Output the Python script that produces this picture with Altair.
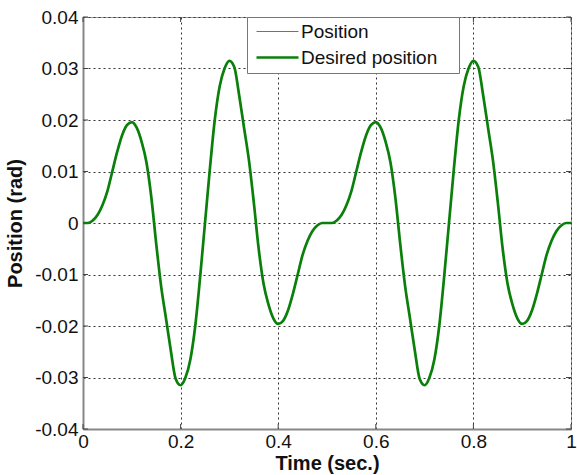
import altair as alt
import pandas as pd

time = [0.00, 0.01, 0.02, 0.03, 0.04, 0.05, 0.06, 0.07, 0.08, 0.09,
        0.10, 0.11, 0.12, 0.13, 0.14, 0.15, 0.16, 0.17, 0.18, 0.19,
        0.20, 0.21, 0.22, 0.23, 0.24, 0.25, 0.26, 0.27, 0.28, 0.29,
        0.30, 0.31, 0.32, 0.33, 0.34, 0.35, 0.36, 0.37, 0.38, 0.39,
        0.40, 0.41, 0.42, 0.43, 0.44, 0.45, 0.46, 0.47, 0.48, 0.49,
        0.50, 0.51, 0.52, 0.53, 0.54, 0.55, 0.56, 0.57, 0.58, 0.59,
        0.60, 0.61, 0.62, 0.63, 0.64, 0.65, 0.66, 0.67, 0.68, 0.69,
        0.70, 0.71, 0.72, 0.73, 0.74, 0.75, 0.76, 0.77, 0.78, 0.79,
        0.80, 0.81, 0.82, 0.83, 0.84, 0.85, 0.86, 0.87, 0.88, 0.89,
        0.90, 0.91, 0.92, 0.93, 0.94, 0.95, 0.96, 0.97, 0.98, 0.99,
        1.00]

desired = [0.0000, 0.0000, 0.0005, 0.0016, 0.0035, 0.0062, 0.0100, 0.0138, 0.0170, 0.0190,
           0.0196, 0.0185, 0.0158, 0.0118, 0.0050, -0.0040, -0.0122, -0.0185, -0.0248, -0.0303,
           -0.0315, -0.0300, -0.0265, -0.0200, -0.0105, 0.0000, 0.0105, 0.0200, 0.0265, 0.0300,
           0.0315, 0.0303, 0.0248, 0.0185, 0.0122, 0.0040, -0.0050, -0.0118, -0.0158, -0.0185,
           -0.0196, -0.0190, -0.0170, -0.0138, -0.0100, -0.0062, -0.0035, -0.0016, -0.0005, 0.0000,
           0.0000, 0.0000, 0.0005, 0.0016, 0.0035, 0.0062, 0.0100, 0.0138, 0.0170, 0.0190,
           0.0196, 0.0185, 0.0158, 0.0118, 0.0050, -0.0040, -0.0122, -0.0185, -0.0248, -0.0303,
           -0.0315, -0.0300, -0.0265, -0.0200, -0.0105, 0.0000, 0.0105, 0.0200, 0.0265, 0.0300,
           0.0315, 0.0303, 0.0248, 0.0185, 0.0122, 0.0040, -0.0050, -0.0118, -0.0158, -0.0185,
           -0.0196, -0.0190, -0.0170, -0.0138, -0.0100, -0.0062, -0.0035, -0.0016, -0.0005, 0.0000,
           0.0000]

# measured position tracks the desired trajectory (no visible difference)
position = [0.0000, 0.0000, 0.0005, 0.0016, 0.0035, 0.0062, 0.0100, 0.0138, 0.0170, 0.0190,
            0.0196, 0.0185, 0.0158, 0.0118, 0.0050, -0.0040, -0.0122, -0.0185, -0.0248, -0.0303,
            -0.0315, -0.0300, -0.0265, -0.0200, -0.0105, 0.0000, 0.0105, 0.0200, 0.0265, 0.0300,
            0.0315, 0.0303, 0.0248, 0.0185, 0.0122, 0.0040, -0.0050, -0.0118, -0.0158, -0.0185,
            -0.0196, -0.0190, -0.0170, -0.0138, -0.0100, -0.0062, -0.0035, -0.0016, -0.0005, 0.0000,
            0.0000, 0.0000, 0.0005, 0.0016, 0.0035, 0.0062, 0.0100, 0.0138, 0.0170, 0.0190,
            0.0196, 0.0185, 0.0158, 0.0118, 0.0050, -0.0040, -0.0122, -0.0185, -0.0248, -0.0303,
            -0.0315, -0.0300, -0.0265, -0.0200, -0.0105, 0.0000, 0.0105, 0.0200, 0.0265, 0.0300,
            0.0315, 0.0303, 0.0248, 0.0185, 0.0122, 0.0040, -0.0050, -0.0118, -0.0158, -0.0185,
            -0.0196, -0.0190, -0.0170, -0.0138, -0.0100, -0.0062, -0.0035, -0.0016, -0.0005, 0.0000,
            0.0000]

series_names = ["Position", "Desired position"]
series_colors = ["#6060ff", "#0a800a"]
series_widths = [1.2, 2.7]

x_ticks = [0, 0.2, 0.4, 0.6, 0.8, 1.0]
y_ticks = [-0.04, -0.03, -0.02, -0.01, 0, 0.01, 0.02, 0.03, 0.04]

df = pd.concat([
    pd.DataFrame({"series": series_names[0], "time": time, "value": position}),
    pd.DataFrame({"series": series_names[1], "time": time, "value": desired}),
], ignore_index=True)

W, H = 488, 412
FONT = "Liberation Sans"

x_enc = alt.X("time:Q",
              scale=alt.Scale(domain=[0, 1], nice=False, zero=False),
              axis=alt.Axis(values=x_ticks, format="~g", title="Time (sec.)", labelFlush=False,
                            grid=True, ticks=False, labelPadding=3, titlePadding=2))
y_enc = alt.Y("value:Q",
              scale=alt.Scale(domain=[-0.04, 0.04], nice=False, zero=False),
              axis=alt.Axis(values=y_ticks, title="Position (rad)", labelFlush=False,
                            labelExpr="datum.value == 0 ? '0' : (datum.value < 0 ? '-' : '') + format(abs(datum.value), '.2f')",
                            grid=True, ticks=False, labelPadding=5, titlePadding=9))

# short horizontal stroke symbol: path in unit space, scaled by sqrt(size)/2 = 7 -> 42 px long.
# An invisible title on the right only widens the box to the reference's size.
leg = alt.Legend(title="MM", titleOrient="right", titleOpacity=0, titleFontSize=10, titlePadding=0,
                 orient="none", legendX=164, legendY=0, direction="vertical",
                 fillColor="white", strokeColor="#777", padding=5,
                 symbolType="M-3,0H3", symbolSize=196, symbolOffset=16,
                 labelFont=FONT, labelFontSize=19, labelColor="#111", labelLimit=400,
                 rowPadding=6, labelOffset=14)

color_enc = alt.Color("series:N", scale=alt.Scale(domain=series_names, range=series_colors), legend=leg)
width_enc = alt.StrokeWidth("series:N", scale=alt.Scale(domain=series_names, range=series_widths), legend=leg)

base = alt.Chart(df)
pos_line = base.transform_filter(alt.datum.series == series_names[0]).mark_line(
    interpolate="monotone", clip=True).encode(x=x_enc, y=y_enc, color=color_enc, strokeWidth=width_enc)
des_line = base.transform_filter(alt.datum.series == series_names[1]).mark_line(
    interpolate="monotone", clip=True).encode(x=x_enc, y=y_enc, color=color_enc, strokeWidth=width_enc)

xt = alt.Chart(pd.DataFrame({"time": x_ticks}))
yt = alt.Chart(pd.DataFrame({"value": y_ticks}))
tick_col = "#444"
xb = xt.mark_rule(color=tick_col).encode(x=x_enc, y=alt.value(H), y2=alt.value(H - 5))
xtop = xt.mark_rule(color=tick_col).encode(x=x_enc, y=alt.value(0), y2=alt.value(5))
yl = yt.mark_rule(color=tick_col).encode(y=y_enc, x=alt.value(0), x2=alt.value(5))
yr = yt.mark_rule(color=tick_col).encode(y=y_enc, x=alt.value(W - 5), x2=alt.value(W))

chart = alt.layer(xb, xtop, yl, yr, pos_line, des_line).properties(
    width=W, height=H,
    padding={"left": 83, "top": 17, "right": 6, "bottom": 46},
    autosize=alt.AutoSizeParams(type="none"),
    background="white",
).configure_axis(
    labelFont=FONT, labelFontSize=19, labelColor="#111",
    titleFont=FONT, titleFontSize=20, titleFontWeight="bold", titleColor="#111",
    domainColor="#888", domainWidth=2,
    gridColor="#333", gridDash=[2, 3], gridWidth=1, gridOpacity=1,
).configure_view(stroke="#999", strokeWidth=1)

chart.save("out.html", embed_options={"renderer": "svg", "actions": False})
